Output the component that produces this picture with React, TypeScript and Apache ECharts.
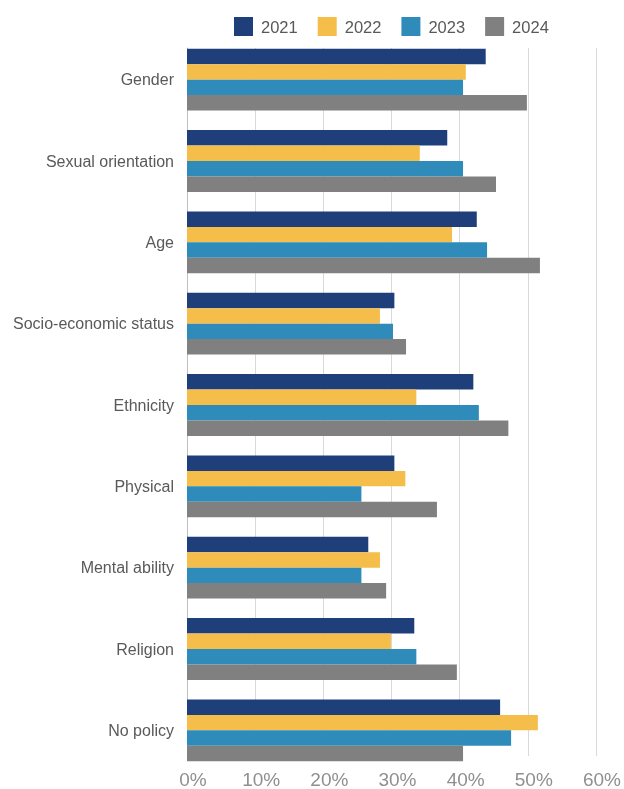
import React, { useEffect, useRef } from "react";
import * as echarts from "echarts";

const categories = [
  "Gender",
  "Sexual orientation",
  "Age",
  "Socio-economic status",
  "Ethnicity",
  "Physical",
  "Mental ability",
  "Religion",
  "No policy",
];

const years = ["2021", "2022", "2023", "2024"];

const values2021 = [43.5, 37.9, 42.2, 30.2, 41.7, 30.2, 26.4, 33.1, 45.6];
const values2022 = [40.6, 33.9, 38.6, 28.1, 33.4, 31.8, 28.1, 29.7, 51.1];
const values2023 = [40.2, 40.2, 43.7, 30.0, 42.5, 25.4, 25.4, 33.4, 47.2];
const values2024 = [49.5, 45.0, 51.4, 31.9, 46.8, 36.4, 29.0, 39.3, 40.2];

const colors = ["#1F3F7A", "#F5BE4B", "#2E8BBA", "#808080"];

const FONT = "'Liberation Sans', Arial, sans-serif";

export default function App() {
  const ref = useRef<HTMLDivElement>(null);

  useEffect(() => {
    if (!ref.current) return;
    const chart = echarts.init(ref.current, undefined, { renderer: "svg" });
    const seriesValues = [values2021, values2022, values2023, values2024];
    chart.setOption({
      animation: false,
      textStyle: { fontFamily: FONT },
      legend: {
        data: years,
        top: 17,
        left: 234,
        padding: 0,
        itemWidth: 19,
        itemHeight: 19,
        itemGap: 20,
        icon: "rect",
        textStyle: {
          fontSize: 16.5,
          color: "#595959",
          fontFamily: FONT,
          padding: [0, 0, 0, 3],
        },
      },
      grid: [
        // bars and category labels
        { left: 187, right: 25, top: 39, bottom: 18, containLabel: false },
        // gridlines and percentage labels, spanning only the bar groups
        { left: 187, right: 25, top: 48, bottom: 29, containLabel: false },
      ],
      xAxis: [
        {
          gridIndex: 0,
          type: "value",
          min: 0,
          max: 60,
          interval: 10,
          show: false,
        },
        {
          gridIndex: 1,
          type: "value",
          min: 0,
          max: 60,
          interval: 10,
          axisLine: { show: false },
          axisTick: { show: false },
          splitLine: { lineStyle: { color: "#d9d9d9", width: 1 } },
          axisLabel: {
            formatter: "{value}%",
            fontSize: 19,
            color: "#8f8f8f",
            margin: 14,
            padding: [0, 0, 0, 12],
            fontFamily: FONT,
          },
        },
      ],
      yAxis: [
        {
          gridIndex: 0,
          type: "category",
          data: categories,
          inverse: true,
          axisLine: { show: false },
          axisTick: { show: false },
          axisLabel: { fontSize: 16, color: "#595959", margin: 13, fontFamily: FONT },
        },
        {
          gridIndex: 1,
          type: "value",
          min: 0,
          max: 1,
          axisLine: { show: true, lineStyle: { color: "#bfbfbf", width: 1 } },
          axisTick: { show: false },
          axisLabel: { show: false },
          splitLine: { show: false },
        },
      ],
      series: years.map((y, i) => ({
        name: y,
        type: "bar",
        xAxisIndex: 0,
        yAxisIndex: 0,
        data: seriesValues[i],
        itemStyle: { color: colors[i] },
        barGap: "0%",
        barCategoryGap: "24%",
        z: 3,
      })),
    });
    return () => chart.dispose();
  }, []);

  return (
    <div
      ref={ref}
      style={{ position: "fixed", left: 0, top: 0, width: 624, height: 789, overflow: "hidden" }}
    />
  );
}
